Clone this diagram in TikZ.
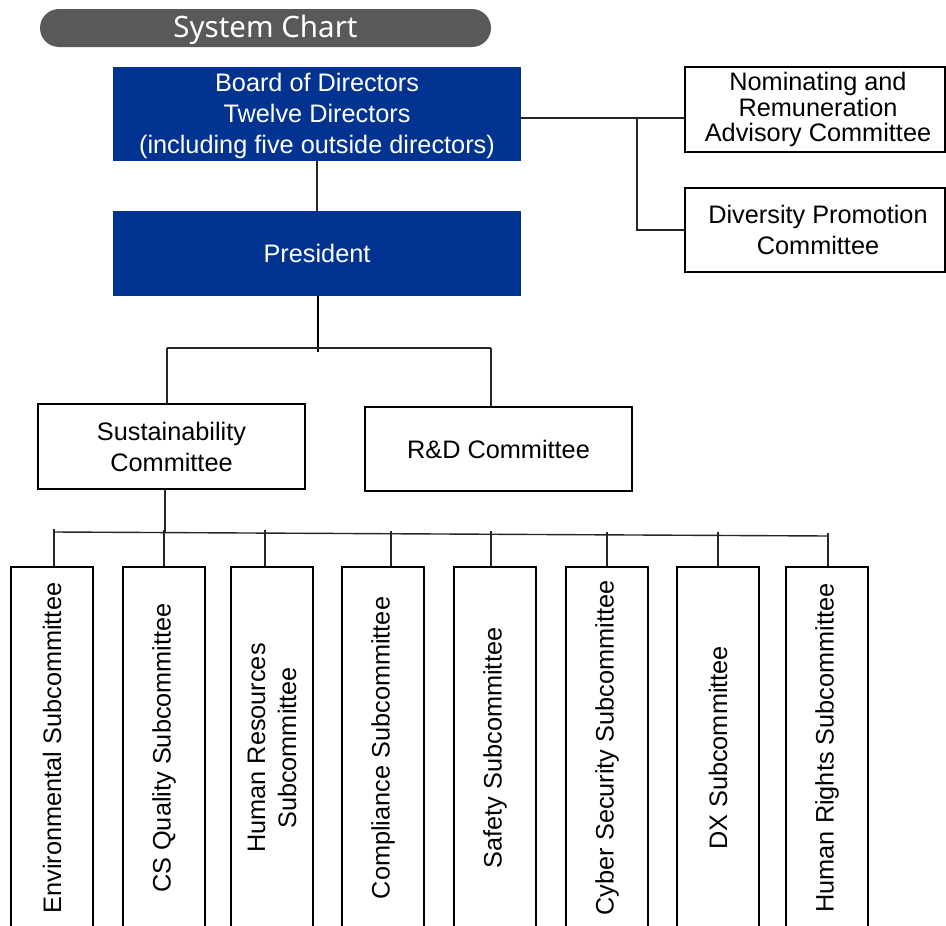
\documentclass[tikz,border=0pt]{standalone}
\usepackage{fontspec}
\setmainfont{Liberation Sans}
\newfontfamily\headfont{Noto Sans}
\definecolor{boardblue}{RGB}{3,51,145}
\definecolor{pillgray}{RGB}{89,89,89}
\begin{document}
\begin{tikzpicture}[x=1pt,y=-1pt,
  txt/.style={font=\fontsize{25.3}{31}\selectfont},
  bluebox/.style={txt,fill=boardblue,text=white,align=center,inner sep=0pt,
    minimum width=408pt},
  plainbox/.style={txt,draw=black,line width=2pt,fill=white,align=center,inner sep=0pt},
  subbox/.style={draw=black,line width=2pt,fill=white,inner sep=0pt,
    minimum width=82pt,minimum height=362pt},
  sublabel/.style={txt,rotate=90,align=center,inner sep=0pt},
  link/.style={draw=black!85,line width=1.4pt}]
\useasboundingbox (0,0) rectangle (946,926);

% title pill
\node[fill=pillgray,rounded corners=19pt,minimum width=451pt,minimum height=38pt,
  inner sep=0pt] (title) at (265.5,28) {};
\node[text=white,inner sep=0pt,font=\headfont\fontsize{29.5}{34}\selectfont]
  at ([yshift=-2pt]title.center) {System Chart};

% top management
\node[bluebox,minimum height=94pt] (board) at (317,114) {};
\node[txt,text=white,align=center,inner sep=0pt] at ([yshift=-2pt]board.center)
  {Board of Directors\\Twelve Directors\\(including five outside directors)};
\node[bluebox,minimum height=85pt] (pres) at (317,253.5) {President};

% advisory committees
\node[plainbox,minimum width=260pt,minimum height=85pt] (nom) at (815,109.5) {};
\node[align=center,inner sep=0pt,font=\fontsize{25.3}{25.5}\selectfont]
  at ([xshift=3pt]nom.center) {Nominating and\\Remuneration\\Advisory Committee};
\node[plainbox,minimum width=260pt,minimum height=84pt] (div) at (815,230) {};
\node[txt,align=center,inner sep=0pt] at ([xshift=3pt]div.center)
  {Diversity Promotion\\Committee};

% committees under the president
\node[plainbox,minimum width=267pt,minimum height=85pt] (sus) at (171.5,446.5)
  {Sustainability\\Committee};
\node[plainbox,minimum width=267pt,minimum height=84pt] (rd) at (498.5,449)
  {R\&D Committee};

% subcommittees
\foreach \n/\x/\t in {s1/52/{Environmental Subcommittee},
                      s2/164/{CS Quality Subcommittee},
                      s3/272/{Human Resources\\Subcommittee},
                      s4/383/{Compliance Subcommittee},
                      s5/495/{Safety Subcommittee},
                      s6/607/{Cyber Security Subcommittee},
                      s7/718/{DX Subcommittee},
                      s8/827/{Human Rights Subcommittee}}{
  \node[subbox] (\n) at (\x,748) {};
  \node[sublabel] at (\n) {\t};
}

% board to president
\draw[link] (board.south) -- (pres.north);

% board to advisory committees
\coordinate (jadv) at (637,118);
\draw[link] (board.east |- jadv) -- (nom.west |- jadv);
\draw[link] (jadv) |- (div.west);

% president to committees
\coordinate (pdrop) at (318,352);
\coordinate (cl) at (167,348);
\coordinate (cr) at (491,348);
\draw[link,line width=2pt,draw=black] (pres.south -| pdrop) -- (pdrop);
\draw[link] (cl) -- (cr);
\draw[link] (cl) -- (sus.north -| cl);
\draw[link] (cr) -- (rd.north -| cr);

% sustainability committee to subcommittees
\coordinate (bl) at (54,532);
\coordinate (br) at (828,536);
\draw[link] (bl) -- (br);
\draw[link] (sus.south -| 165,0) -- (165,532.6);
\foreach \n/\x/\y in {s1/54/532,s2/164/532.6,s3/265/533.1,s4/391/533.7,
                      s5/491/534.3,s6/607/534.9,s7/718/535.4,s8/828/536}{
  \draw[link] (\x,\y-3) -- (\n.north -| \x,0);
}
\end{tikzpicture}
\end{document}
